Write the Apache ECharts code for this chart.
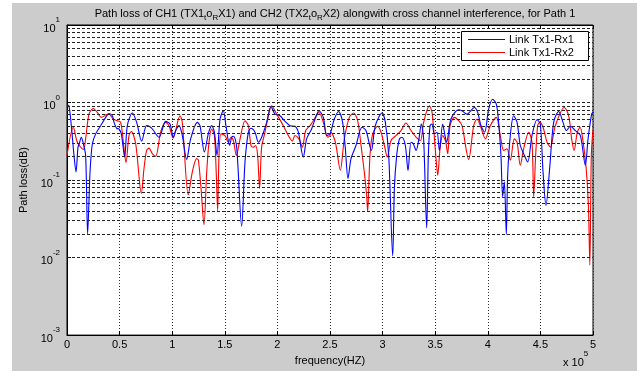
<!DOCTYPE html>
<html>
<head>
<meta charset="utf-8">
<script src="https://cdn.jsdelivr.net/npm/echarts@6/dist/echarts.min.js"></script>
<style>
  html, body { margin: 0; padding: 0; background: #ffffff; }
  #bg { position: absolute; left: 12px; top: 3px; width: 625px; height: 368px; background: #cccccc; }
  #chart { position: absolute; left: 0; top: 0; width: 637px; height: 371px; }
</style>
</head>
<body>
<div id="bg"></div>
<div id="chart"></div>
<script>
// frequency in units of 1e5 Hz, path loss values
const linkRx1 = [
  [0,0.93],[0.016,0.925],[0.041,0.503],[0.0665,0.208],[0.0856,0.127],[0.1046,0.266],[0.117,0.294],[0.136,0.357],[0.152,0.308],[0.177,0.208],[0.196,0.0202],[0.219,0.127],[0.241,0.294],[0.2725,0.394],[0.32,0.503],[0.3675,0.643],[0.399,0.723],[0.431,0.675],[0.447,0.555],[0.472,0.465],[0.494,0.456],[0.5165,0.394],[0.548,0.198],[0.5735,0.503],[0.621,0.731],[0.662,0.555],[0.71,0.318],[0.757,0.503],[0.802,0.470],[0.8745,0.357],[0.938,0.572],[0.979,0.529],[1.011,0.357],[1.033,0.435],[1.065,0.503],[1.096,0.375],[1.1375,0.185],[1.1755,0.340],[1.239,0.555],
  [1.264,0.503],[1.306,0.230],[1.343,0.394],[1.375,0.503],[1.401,0.414],[1.426,0.208],[1.455,0.612],[1.486,0.782],[1.511,0.503],[1.546,0.279],[1.565,0.357],[1.584,0.368],[1.613,0.266],[1.660,0.0253],[1.692,0.171],[1.724,0.414],[1.749,0.465],[1.787,0.414],[1.819,0.308],[1.850,0.357],[1.898,0.555],[1.939,0.889],[1.977,0.709],[2.025,0.675],[2.066,0.583],[2.120,0.503],[2.167,0.494],[2.199,0.414],[2.246,0.198],[2.278,0.340],[2.325,0.456],[2.364,0.643],[2.395,0.782],[2.437,0.643],[2.468,0.375],[2.500,0.394],
  [2.541,0.612],[2.582,0.767],[2.62,0.555],[2.646,0.253],[2.671,0.105],[2.7,0.189],[2.747,0.279],[2.804,0.479],[2.842,0.435],[2.893,0.241],[2.931,0.503],[2.995,0.731],[3.026,0.555],[3.058,0.208],[3.096,0.0105],[3.112,0.078],[3.134,0.208],[3.16,0.340],[3.184,0.357],[3.216,0.279],[3.242,0.1326],[3.27,0.308],[3.292,0.294],[3.318,0.241],[3.343,0.324],[3.368,0.529],[3.39,0.340],[3.419,0.0241],[3.435,0.208],[3.451,0.503],[3.47,0.529],[3.492,0.394],[3.517,0.414],[3.54,0.241],[3.571,0.529],[3.593,0.375],[3.609,0.308],[3.65,0.612],[3.723,0.806],[3.755,0.782],
  [3.802,0.709],[3.872,0.863],[3.904,0.745],[3.935,0.503],[3.97,0.414],[4.008,0.822],[4.046,1.10],[4.081,0.952],[4.103,0.555],[4.125,0.208],[4.141,0.0611],[4.157,0.095],[4.176,0.0198],[4.189,0.115],[4.214,0.375],[4.246,0.675],[4.278,0.555],[4.309,0.279],[4.341,0.219],[4.379,0.171],[4.42,0.375],[4.468,0.600],[4.499,0.529],[4.525,0.1274],[4.553,0.0469],[4.588,0.141],[4.626,0.555],[4.674,0.767],[4.715,0.555],[4.747,0.435],[4.785,0.494],[4.832,0.435],[4.88,0.375],[4.927,0.155],[4.953,0.340],[4.987,0.709],[5.0,0.75]
];
const linkRx2 = [
  [0,0.208],[0.06,0.479],[0.098,0.308],[0.155,0.248],[0.177,0.340],[0.209,0.709],[0.25,0.838],[0.288,0.745],[0.326,0.643],[0.3675,0.689],[0.399,0.709],[0.44,0.612],[0.478,0.583],[0.51,0.555],[0.5355,0.308],[0.561,0.168],[0.589,0.375],[0.6115,0.422],[0.653,0.294],[0.7066,0.0674],[0.732,0.141],[0.757,0.241],[0.779,0.258],[0.811,0.219],[0.843,0.202],[0.89,0.414],[0.938,0.555],[0.97,0.503],[1.008,0.347],[1.074,0.675],[1.096,0.555],[1.153,0.0642],[1.191,0.127],[1.2326,0.189],
  [1.249,0.180],[1.274,0.078],[1.302,0.0265],[1.328,0.127],[1.35,0.308],[1.375,0.456],[1.401,0.375],[1.417,0.141],[1.432,0.0401],[1.445,0.208],[1.464,0.394],[1.502,0.375],[1.534,0.308],[1.559,0.357],[1.581,0.324],[1.61,0.208],[1.645,0.340],[1.692,0.583],[1.724,0.503],[1.749,0.279],[1.771,0.266],[1.793,0.279],[1.812,0.208],[1.831,0.078],[1.85,0.266],[1.882,0.414],[1.914,0.675],[1.945,0.906],[1.993,0.709],[2.056,0.503],[2.104,0.375],[2.142,0.318],[2.167,0.375],[2.205,0.340],[2.237,0.266],[2.269,0.435],[2.31,0.503],[2.342,0.583],[2.395,0.745],[2.437,0.555],[2.478,0.357],[2.5,0.375],
  [2.509,0.414],[2.551,0.308],[2.598,0.134],[2.636,0.340],[2.684,0.643],[2.725,0.731],[2.763,0.583],[2.795,0.279],[2.826,0.127],[2.848,0.0642],[2.858,0.0393],[2.88,0.208],[2.906,0.394],[2.953,0.494],[2.985,0.414],[3.017,0.279],[3.045,0.198],[3.08,0.324],[3.127,0.375],[3.175,0.435],[3.222,0.545],[3.27,0.435],[3.318,0.357],[3.359,0.324],[3.39,0.555],[3.444,0.906],[3.47,0.745],[3.508,0.189],[3.524,0.115],[3.546,0.253],[3.571,0.375],[3.597,0.324],[3.619,0.219],[3.641,0.503],[3.682,0.643],[3.723,0.583],
  [3.755,0.503],[3.818,0.185],[3.866,0.503],[3.897,0.612],[3.929,0.503],[3.977,0.340],[4.024,0.503],[4.081,0.643],[4.119,0.375],[4.151,0.241],[4.182,0.253],[4.214,0.180],[4.252,0.340],[4.278,0.308],[4.309,0.155],[4.341,0.253],[4.389,0.414],[4.42,0.308],[4.436,0.0611],[4.455,0.208],[4.474,0.503],[4.493,0.555],[4.525,0.479],[4.563,0.308],[4.595,0.266],[4.642,0.503],[4.727,0.863],[4.769,0.675],[4.797,0.340],[4.82,0.241],[4.851,0.414],[4.877,0.479],[4.902,0.340],[4.934,0.148],[4.956,0.0478],[4.97,0.008],[4.984,0.208],[5.0,0.45]
];
const seriesNames = ['Link Tx1-Rx1', 'Link Tx1-Rx2'];
const seriesColors = ['#0000ff', '#ff0000'];
const xTickStep = 0.5; // in 1e5 Hz
const xMax = 5;        // in 1e5 Hz
const yMin = 1e-3, yMax = 1e1;
const FREQ_UNIT = 1e5;

const FONT = '"Liberation Sans", Arial, sans-serif';

// minor log grid values (2..9 x 10^k)
const minorGrid = [];
for (let k = -3; k < 1; k++) {
  for (let m = 2; m <= 9; m++) minorGrid.push(m * Math.pow(10, k));
}

const toHz = arr => arr.map(p => [p[0] * FREQ_UNIT, p[1]]);

// legend box drawn as graphic (MATLAB-style line legend)
const LEG = { x: 461, y: 31, w: 127, h: 29, rowH: 13 };
const legendGraphics = [{
  type: 'rect',
  z: 100,
  shape: { x: LEG.x + 0.5, y: LEG.y + 0.5, width: LEG.w, height: LEG.h },
  style: { fill: '#ffffff', stroke: '#000000', lineWidth: 1 }
}];
seriesNames.forEach((n, i) => {
  const cy = LEG.y + 8.5 + i * LEG.rowH;
  legendGraphics.push({
    type: 'line', z: 101,
    shape: { x1: LEG.x + 7, y1: cy, x2: LEG.x + 44, y2: cy },
    style: { stroke: seriesColors[i], lineWidth: 1 }
  });
  legendGraphics.push({
    type: 'text', z: 101,
    x: LEG.x + 48, y: cy,
    style: { text: n, fill: '#000', fontFamily: FONT, fontSize: 11, verticalAlign: 'middle', align: 'left' }
  });
});

const chart = echarts.init(document.getElementById('chart'), null, { renderer: 'canvas' });
chart.setOption({
  backgroundColor: 'transparent',
  animation: false,
  color: ['#0000ff', '#ff0000', '#888888'],
  textStyle: { fontFamily: FONT },
  title: {
    text: 'Path loss of CH1 (TX1{s|t}o{s|R}X1) and CH2 (TX2{s|t}o{s|R}X2) alongwith cross channel interference, for Path 1',
    left: 330,
    textAlign: 'center',
    top: 1,
    textStyle: {
      fontFamily: FONT, fontSize: 11, fontWeight: 'normal', color: '#000',
      lineHeight: 16,
      rich: {
        s: { fontFamily: FONT, fontSize: 8, lineHeight: 8, verticalAlign: 'bottom', color: '#000' }
      }
    }
  },
  legend: { show: false, data: seriesNames },
  grid: {
    left: 67, right: 44, top: 25, bottom: 33,
    show: true,
    backgroundColor: '#ffffff',
    borderColor: '#000000',
    borderWidth: 1
  },
  xAxis: [{
    type: 'value',
    min: 0,
    max: xMax * FREQ_UNIT,
    interval: xTickStep * FREQ_UNIT,
    name: 'frequency(HZ)',
    nameLocation: 'middle',
    nameGap: 17,
    nameTextStyle: { fontFamily: FONT, fontSize: 11, color: '#000' },
    axisLine: { show: true, lineStyle: { color: '#000', width: 1 } },
    axisTick: { show: true, inside: true, length: 4, lineStyle: { color: '#000' } },
    axisLabel: {
      fontFamily: FONT, fontSize: 11, color: '#000', margin: 4,
      formatter: v => String(Math.round(v / FREQ_UNIT * 10) / 10)
    },
    splitLine: { show: true, lineStyle: { color: '#333', type: [1, 2], width: 1 } }
  }, {
    type: 'value',
    position: 'top',
    min: 0,
    max: xMax * FREQ_UNIT,
    interval: xTickStep * FREQ_UNIT,
    axisLine: { show: true, lineStyle: { color: '#000', width: 1 } },
    axisTick: { show: true, inside: true, length: 4, lineStyle: { color: '#000' } },
    axisLabel: { show: false },
    splitLine: { show: false }
  }],
  yAxis: {
    type: 'log',
    logBase: 10,
    min: yMin,
    max: yMax,
    name: 'Path loss(dB)',
    nameLocation: 'middle',
    nameGap: 29,
    nameRotate: 90,
    nameTextStyle: { fontFamily: FONT, fontSize: 11, color: '#000' },
    axisLine: { show: true, lineStyle: { color: '#000', width: 1 } },
    axisTick: { show: true, inside: true, length: 4, lineStyle: { color: '#000' } },
    axisLabel: {
      color: '#000', margin: 7,
      formatter: v => '{b|10}{s|' + Math.round(Math.log10(v)) + '}',
      rich: {
        b: { fontFamily: FONT, fontSize: 11, lineHeight: 18, verticalAlign: 'bottom', color: '#000' },
        s: { fontFamily: FONT, fontSize: 8, lineHeight: 10, verticalAlign: 'top', color: '#000' }
      }
    },
    splitLine: { show: true, lineStyle: { color: '#222', type: [3, 2], width: 1 } }
  },
  graphic: [{
    type: 'text',
    left: 563,
    top: 350,
    style: {
      text: '{a|x 10}{s|5}',
      rich: {
        a: { fontFamily: FONT, fontSize: 11, lineHeight: 18, verticalAlign: 'bottom', fill: '#000' },
        s: { fontFamily: FONT, fontSize: 8, lineHeight: 10, verticalAlign: 'top', fill: '#000' }
      }
    }
  }].concat(legendGraphics),
  series: [{
    name: seriesNames[0],
    type: 'line',
    data: toHz(linkRx1),
    showSymbol: false,
    smooth: 0.3,
    z: 3,
    lineStyle: { color: seriesColors[0], width: 1.1 },
    itemStyle: { color: seriesColors[0] }
  }, {
    name: seriesNames[1],
    type: 'line',
    data: toHz(linkRx2),
    showSymbol: false,
    smooth: 0.3,
    z: 2,
    lineStyle: { color: seriesColors[1], width: 1.1 },
    itemStyle: { color: seriesColors[1] }
  }, {
    name: 'minor-grid',
    type: 'line',
    data: [],
    silent: true,
    z: 1,
    markLine: {
      silent: true,
      symbol: ['none', 'none'],
      label: { show: false },
      animation: false,
      lineStyle: { color: '#222', type: [3, 2], width: 1 },
      emphasis: { disabled: true },
      data: minorGrid.map(v => ({ yAxis: v }))
    }
  }]
});
</script>
</body>
</html>
